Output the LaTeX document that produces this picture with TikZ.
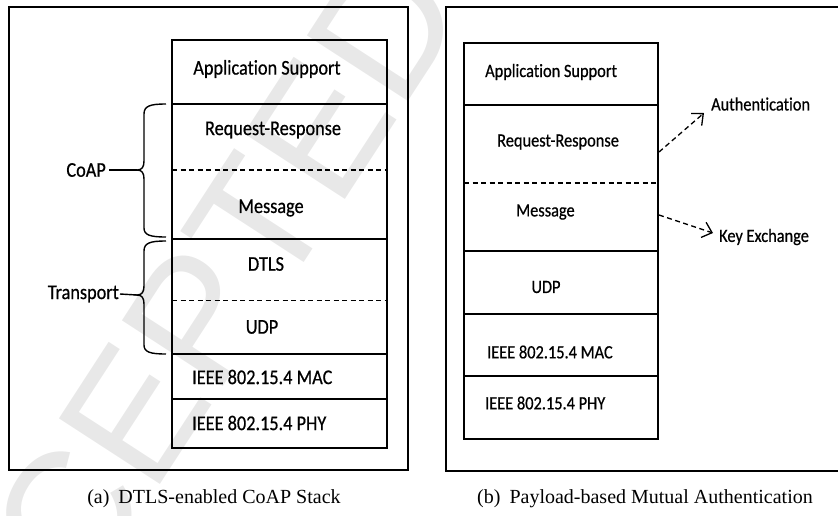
\documentclass[tikz,border=0pt]{standalone}
\usepackage{fontspec}
\setmainfont{Liberation Serif}
\newfontfamily\layerfont[FakeStretch=0.87,FakeBold=0.6,RawFeature=-liga]{Carlito}
\newfontfamily\markfont{Liberation Sans}
\usetikzlibrary{arrows.meta}

\tikzset{
  panel/.style={line width=1.6pt},
  stackline/.style={line width=1.4pt},
  sepdash/.style={line width=1.4pt, dash pattern=on 5pt off 3.5pt},
  brace/.style={line width=1.4pt},
  lyr/.style={inner sep=0pt, font=\layerfont\fontsize{21}{23}\selectfont},
  lyrsmall/.style={inner sep=0pt, font=\layerfont\fontsize{18.8}{21}\selectfont},
  subcap/.style={inner sep=0pt, font=\fontsize{20}{24}\selectfont},
  flow/.style={line width=1.3pt, dash pattern=on 5pt off 3.5pt,
    -{Straight Barb[length=9pt,width=16pt]}},
}

\begin{document}
\begin{tikzpicture}[x=1pt,y=-1pt]
\useasboundingbox (0,0) rectangle (838,515);
\clip (0,0) rectangle (838,515);

% faint diagonal watermark behind everything
\node[rotate=57, text=black!9, inner sep=0pt,
      font=\markfont\fontsize{175}{175}\selectfont] (wm) at (226,272) {CEPTED};

% ---------- (a) DTLS-enabled CoAP stack ----------
\draw[panel] (9,7) rectangle (408,470);
\draw[stackline] (172,40) rectangle (387,448);
\draw[stackline] (172,104) -- (387,104);
\draw[stackline] (172,239) -- (387,239);
\draw[stackline] (172,354) -- (387,354);
\draw[stackline] (172,399) -- (387,399);
\draw[sepdash] (172,170) -- (387,170);
\draw[sepdash] (172,300.5) -- (387,300.5);

\node[lyr] (aapp) at (267,69) {Application Support};
\node[lyr] (areq) at (273,130) {Request-Response};
\node[lyr] (amsg) at (271,208) {Message};
\node[lyr] (adtls) at (266,264) {DTLS};
\node[lyr] (audp) at (262,327) {UDP};
\node[lyr, anchor=west] (amac) at (192,377) {IEEE 802.15.4 MAC};
\node[lyr, anchor=west] (aphy) at (192,423) {IEEE 802.15.4 PHY};

% curly braces grouping the layers
\coordinate (coaptip) at (137,170);
\draw[brace] (166,104) .. controls (150,104) and (144,106) .. (144,114)
  -- (144,161) .. controls (144,167) and (142,170) .. (coaptip)
  .. controls (142,170) and (144,173) .. (144,179)
  -- (144,228) .. controls (144,235) and (150,237) .. (166,237);
\coordinate (transtip) at (137,295);
\draw[brace] (166,241) .. controls (150,241) and (144,243) .. (144,251)
  -- (144,286) .. controls (144,292) and (142,295) .. (transtip)
  .. controls (142,295) and (144,298) .. (144,304)
  -- (144,345) .. controls (144,352) and (150,354) .. (166,354);

\node[lyr, anchor=east] (coap) at (106,170) {CoAP};
\node[lyr, anchor=east] (transport) at (119,294) {Transport};
\draw[brace] (coap.east) ++(3,0) -- (coaptip);
\draw[brace] (transport.east) ++(1,0) -- (transtip);

\node[subcap] (capa) at (214,499) {(a)\hspace{0.45em}DTLS-enabled CoAP Stack};

% ---------- (b) payload-based mutual authentication ----------
\draw[panel] (446,7) rectangle (860,471);
\draw[stackline] (464,43) rectangle (658,439);
\draw[stackline] (464,105) -- (658,105);
\draw[stackline] (464,251) -- (658,251);
\draw[stackline] (464,314) -- (658,314);
\draw[stackline] (464,376) -- (658,376);
\draw[sepdash] (464,183) -- (658,183);

\node[lyrsmall, anchor=west] (bapp) at (485,72) {Application Support};
\node[lyrsmall, anchor=west] (breq) at (497,142) {Request-Response};
\node[lyrsmall, anchor=west] (bmsg) at (516,212) {Message};
\node[lyrsmall] (budp) at (546,287) {UDP};
\node[lyrsmall, anchor=west] (bmac) at (487,352) {IEEE 802.15.4 MAC};
\node[lyrsmall, anchor=west] (bphy) at (485,403) {IEEE 802.15.4 PHY};

\node[lyrsmall, anchor=west] (auth) at (711,104) {Authentication};
\node[lyrsmall, anchor=west] (kex) at (719,237) {Key Exchange};
\coordinate (reqedge) at (659,152);
\coordinate (msgedge) at (659,215);
\draw[flow] (reqedge) -- ([xshift=-7pt,yshift=-9pt]auth.west);
\draw[flow] (msgedge) -- ([xshift=-6pt,yshift=4pt]kex.west);

\node[subcap] (capb) at (645,499) {(b)\hspace{0.45em}Payload-based Mutual Authentication};
\end{tikzpicture}
\end{document}
